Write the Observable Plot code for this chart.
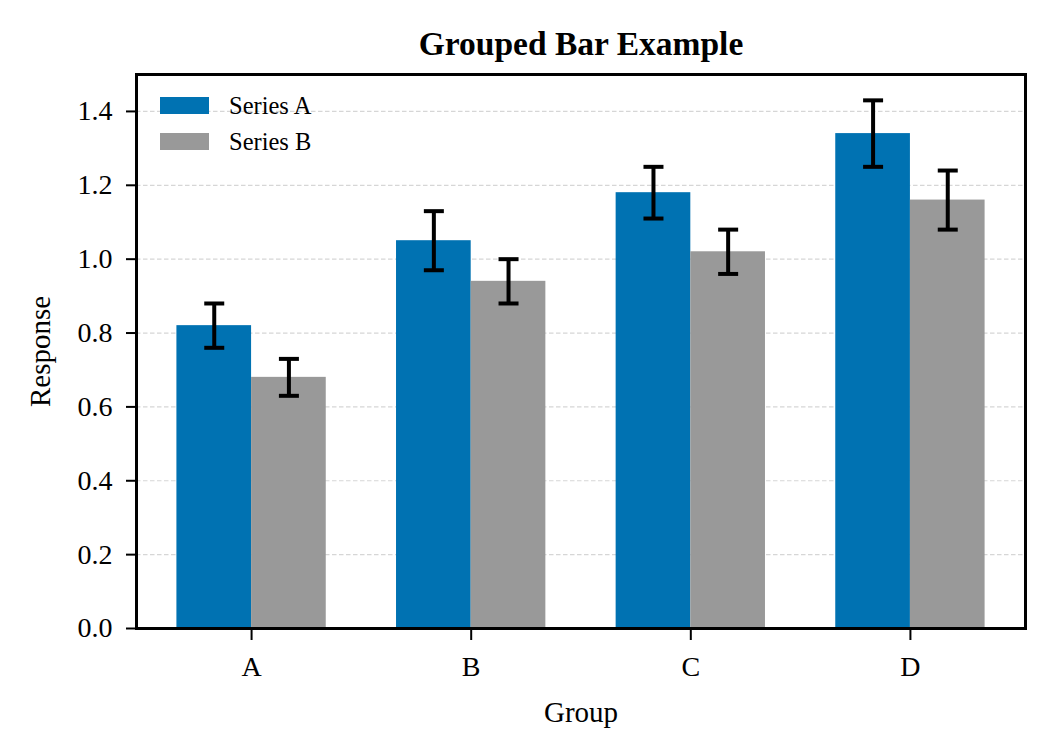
<!DOCTYPE html>
<html>
<head>
<meta charset="utf-8">
<script src="https://cdn.jsdelivr.net/npm/d3@7"></script>
<script src="https://cdn.jsdelivr.net/npm/@observablehq/plot@0.6"></script>
<style>
  html, body { margin: 0; padding: 0; background: white; }
  #chart { width: 1055px; height: 754px; }
</style>
</head>
<body>
<div id="chart"></div>
<script>
// ---- data ----
const groups = ["A", "B", "C", "D"];
const seriesNames = ["Series A", "Series B"];
const seriesAValues = [0.82, 1.05, 1.18, 1.34];
const seriesBValues = [0.68, 0.94, 1.02, 1.16];
const seriesAErrors = [0.06, 0.08, 0.07, 0.09];
const seriesBErrors = [0.05, 0.06, 0.06, 0.08];
const yTicks = [0.0, 0.2, 0.4, 0.6, 0.8, 1.0, 1.2, 1.4];
const titleText = "Grouped Bar Example";
const xLabel = "Group";
const yLabel = "Response";
const colors = ["#0072B2", "#999999"];

// ---- layout config ----
const barWidth = 0.34;
const span = (groups.length - 1) + 2 * barWidth;
const pad = 0.05 * span;
const xDomain = [-barWidth - pad, groups.length - 1 + barWidth + pad];

const rows = [];
groups.forEach((g, i) => {
  [[seriesAValues, seriesAErrors], [seriesBValues, seriesBErrors]].forEach(([vals, errs], s) => {
    const off = s === 0 ? -barWidth / 2 : barWidth / 2;
    rows.push({
      group: g,
      series: seriesNames[s],
      x1: i + off - barWidth / 2,
      x2: i + off + barWidth / 2,
      cx: i + off,
      value: vals[i],
      lo: vals[i] - errs[i],
      hi: vals[i] + errs[i]
    });
  });
});

const capSymbol = {
  draw(context, size) {
    const r = Math.sqrt(size / Math.PI);
    context.moveTo(-r, 0);
    context.lineTo(r, 0);
  }
};

const plot = Plot.plot({
  width: 1055,
  height: 754,
  marginLeft: 136,
  marginRight: 30,
  marginTop: 74,
  marginBottom: 126,
  style: {
    fontFamily: "'Liberation Serif', 'Times New Roman', serif",
    fontSize: "28px",
    color: "black",
    background: "white"
  },
  x: { domain: xDomain },
  y: { domain: [0, 1.5] },
  color: { domain: seriesNames, range: colors },
  marks: [
    Plot.gridY(yTicks.filter(d => d > 0), {
      stroke: "#d6d6d6", strokeOpacity: 1, strokeWidth: 1.2, strokeDasharray: "4.5,2.5"
    }),
    Plot.rect(rows, { x1: "x1", x2: "x2", y1: 0, y2: "value", fill: "series" }),
    Plot.ruleX(rows, { x: "cx", y1: "lo", y2: "hi", stroke: "black", strokeWidth: 4 }),
    Plot.dot(rows, { x: "cx", y: "lo", symbol: capSymbol, r: 10, stroke: "black", strokeWidth: 4, fill: "none" }),
    Plot.dot(rows, { x: "cx", y: "hi", symbol: capSymbol, r: 10, stroke: "black", strokeWidth: 4, fill: "none" }),
    Plot.axisY({
      ticks: yTicks, tickFormat: d => d.toFixed(1), tickSize: 10, tickPadding: 14,
      strokeWidth: 2, label: null
    }),
    Plot.axisX({
      ticks: groups.map((g, i) => i), tickFormat: i => groups[i], tickSize: 12, tickPadding: 16,
      strokeWidth: 2, label: null
    }),
    Plot.frame({ stroke: "black", strokeWidth: 3 }),
    Plot.text([titleText], { text: d => d, frameAnchor: "top", lineAnchor: "middle", dy: -30, fontWeight: "bold", fontSize: 33.5 }),
    Plot.text([xLabel], { text: d => d, frameAnchor: "bottom", lineAnchor: "middle", dy: 84, fontSize: 29 }),
    Plot.text([yLabel], { text: d => d, frameAnchor: "left", textAnchor: "middle", lineAnchor: "middle", dx: -96, rotate: -90, fontSize: 29 })
  ]
});

// legend inside the plot frame (top-left)
const svg = d3.select(plot);
const lg = svg.append("g").attr("transform", "translate(160,97)");
seriesNames.forEach((name, i) => {
  const row = lg.append("g").attr("transform", `translate(0,${i * 36})`);
  row.append("rect").attr("width", 49).attr("height", 17).attr("fill", colors[i]);
  row.append("text").attr("x", 69).attr("y", 8.5).attr("dy", "0.35em")
    .attr("text-anchor", "start")
    .attr("font-size", 24.5).attr("fill", "black").text(name);
});

document.getElementById("chart").appendChild(plot);
</script>
</body>
</html>
